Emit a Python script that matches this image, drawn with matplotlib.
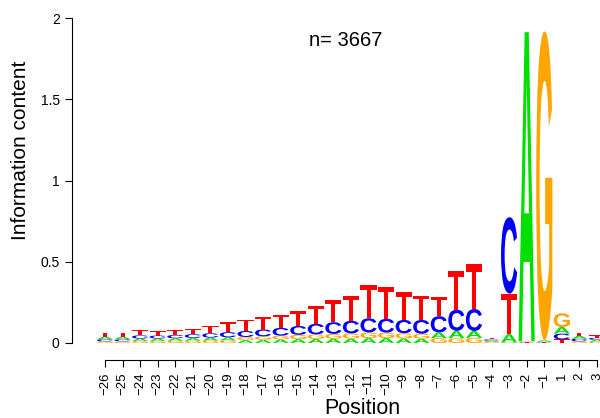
import matplotlib
matplotlib.use("Agg")
import matplotlib.pyplot as plt
from matplotlib.textpath import TextPath
from matplotlib.patches import PathPatch
from matplotlib.font_manager import FontProperties
from matplotlib.transforms import Affine2D

positions = ["-26", "-25", "-24", "-23", "-22", "-21", "-20", "-19", "-18", "-17",
             "-16", "-15", "-14", "-13", "-12", "-11", "-10", "-9", "-8", "-7",
             "-6", "-5", "-4", "-3", "-2", "-1", "1", "2", "3"]

A = [0.016, 0.016, 0.015, 0.015, 0.016, 0.017, 0.018, 0.019, 0.018, 0.020,
     0.022, 0.024, 0.025, 0.026, 0.027, 0.030, 0.030, 0.028, 0.027, 0.035,
     0.045, 0.042, 0.008, 0.050, 1.900, 0.010, 0.040, 0.018, 0.012]
C = [0.013, 0.013, 0.020, 0.019, 0.020, 0.023, 0.027, 0.032, 0.037, 0.042,
     0.048, 0.055, 0.065, 0.072, 0.078, 0.087, 0.085, 0.082, 0.085, 0.100,
     0.130, 0.135, 0.008, 0.470, 0.003, 0.003, 0.036, 0.016, 0.012]
G = [0.010, 0.010, 0.012, 0.012, 0.013, 0.014, 0.015, 0.016, 0.019, 0.021,
     0.023, 0.026, 0.028, 0.030, 0.032, 0.035, 0.034, 0.032, 0.030, 0.030,
     0.030, 0.032, 0.006, 0.004, 0.006, 1.900, 0.085, 0.010, 0.008]
T = [0.025, 0.024, 0.030, 0.029, 0.030, 0.034, 0.045, 0.060, 0.070, 0.075,
     0.080, 0.090, 0.110, 0.135, 0.150, 0.205, 0.195, 0.170, 0.150, 0.120,
     0.240, 0.275, 0.010, 0.250, 0.004, 0.004, 0.022, 0.020, 0.015]

colors = {"A": "#00E000", "C": "#0000FF", "G": "#FFA500", "T": "#FF0000"}
n_label = "n= 3667"

W, H = 600, 418
fig = plt.figure(figsize=(W / 100, H / 100), dpi=100)
x0_px, x_step = 105.0, 17.57
left_px = x0_px - 0.5 * x_step
ax_w_px = 29 * x_step
y0_px, y2_px = 343.0, 18.0
ax = fig.add_axes([left_px / W, (H - y0_px) / H, ax_w_px / W, (y0_px - y2_px) / H])
ax.set_xlim(-0.5, 28.5)
ax.set_ylim(0, 2)

fp = FontProperties(family="Liberation Sans", weight="bold")
glyphs = {}
for L in "ACGT":
    p = TextPath((0, 0), L, size=1, prop=fp)
    glyphs[L] = (p, p.get_extents())

lw = 0.92
for i in range(len(positions)):
    vals = sorted([("A", A[i]), ("C", C[i]), ("G", G[i]), ("T", T[i])], key=lambda t: t[1])
    base = 0.0
    for L, h in vals:
        p, bb = glyphs[L]
        tr = (Affine2D().translate(-bb.x0, -bb.y0)
              .scale(lw / bb.width, h / bb.height)
              .translate(i - lw / 2, base))
        ax.add_patch(PathPatch(tr.transform_path(p), facecolor=colors[L],
                               edgecolor="none", lw=0))
        base += h

font = "Liberation Sans"
for s in ["top", "right"]:
    ax.spines[s].set_visible(False)
ax.spines["left"].set_position(("outward", 24 * 0.72))
ax.spines["bottom"].set_position(("outward", 17 * 0.72))
ax.spines["left"].set_bounds(0, 2)
ax.spines["bottom"].set_bounds(0, 28)
for s in ["left", "bottom"]:
    ax.spines[s].set_linewidth(0.8)
ax.set_yticks([0, 0.5, 1, 1.5, 2])
ax.set_yticklabels(["0", "0.5", "1", "1.5", "2"], fontfamily=font, fontsize=10)
ax.set_xticks(range(len(positions)))
ax.set_xticklabels([p.replace("-", "\u2212") for p in positions], rotation=90,
                   fontfamily=font, fontsize=9.5)
ax.tick_params(axis="both", direction="out", length=5, width=0.8, pad=4)

fig.text(21 / W, 1 - 150 / H, "Information content", rotation=90, ha="center",
         va="center", fontfamily=font, fontsize=15)
fig.text(362 / W, 1 - 408 / H, "Position", ha="center", va="center",
         fontfamily=font, fontsize=15.5)
fig.text(346 / W, 1 - 40 / H, n_label, ha="center", va="center",
         fontfamily=font, fontsize=14.5)

fig.savefig("out.png", dpi=100)
